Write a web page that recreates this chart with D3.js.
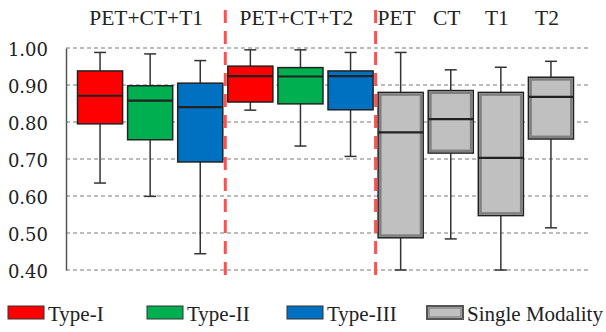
<!DOCTYPE html>
<html>
<head>
<meta charset="utf-8">
<script src="https://cdn.jsdelivr.net/npm/d3@7"></script>
<style>
  body { margin: 0; background: #fff; }
  svg { display: block; }
  .tick text { font-family: "DejaVu Serif", "Liberation Serif", "Times New Roman", serif; }
  .lbl { font-family: "Liberation Serif", "Times New Roman", "DejaVu Serif", serif; }
</style>
</head>
<body>
<div id="container"></div>
<script>
// box data
let ids = ["r1", "g1", "b1", "r2", "g2", "b2", "pet", "ct", "t1", "t2"];
let kinds = ["I", "II", "III", "I", "II", "III", "S", "S", "S", "S"];
let whiskerLow = [0.635, 0.599, 0.444, 0.832, 0.735, 0.707, 0.400, 0.484, 0.400, 0.514];
let q1 = [0.795, 0.752, 0.692, 0.854, 0.849, 0.833, 0.487, 0.716, 0.547, 0.754];
let median = [0.871, 0.858, 0.840, 0.924, 0.923, 0.924, 0.772, 0.808, 0.703, 0.868];
let q3 = [0.938, 0.898, 0.905, 0.951, 0.947, 0.938, 0.880, 0.885, 0.880, 0.921];
let whiskerHigh = [0.988, 0.984, 0.966, 0.995, 0.995, 0.988, 0.988, 0.941, 0.948, 0.964];

let topLabels = ["PET+CT+T1", "PET+CT+T2", "PET", "CT", "T1", "T2"];
let topLabelSpans = [["r1", "b1"], ["r2", "b2"], ["pet", "pet"], ["ct", "ct"], ["t1", "t1"], ["t2", "t2"]];
let yTicks = [0.4, 0.5, 0.6, 0.7, 0.8, 0.9, 1.0];
let legendNames = ["Type-I", "Type-II", "Type-III", "Single Modality"];
let legendKinds = ["I", "II", "III", "S"];

let colors = { I: "#ff0000", II: "#00b050", III: "#0070c0", S: "#c0c0c0" };

let width = 606, height = 332;
let svg = d3.select("#container").append("svg")
    .attr("width", width)
    .attr("height", height);

let x = d3.scaleBand().domain(ids).range([75, 576]).paddingInner(0.1).paddingOuter(0.05);
let y = d3.scaleLinear().domain([0.4, 1.0]).range([270, 48]);

// grid lines
svg.append("g").selectAll("line").data(yTicks).enter().append("line")
    .attr("x1", 66).attr("x2", 590)
    .attr("y1", d => y(d)).attr("y2", d => y(d))
    .attr("stroke", "#a6a6a6").attr("stroke-width", 1.3)
    .attr("stroke-dasharray", "4,3");

// y axis
let yAxis = d3.axisLeft(y).tickValues(yTicks).tickFormat(d3.format(".2f")).tickSize(0).tickPadding(18);
let ga = svg.append("g").attr("transform", "translate(66,0)").call(yAxis);
ga.attr("font-family", null);
ga.select(".domain").attr("stroke", "#555").attr("stroke-width", 1.5);
ga.selectAll("text")
    .attr("font-size", 18)
    .attr("fill", "#222")
    .attr("dy", "0.42em");

let rows = ids.map((id, i) => ({ id: id, kind: kinds[i], lo: whiskerLow[i], q1: q1[i], med: median[i], q3: q3[i], hi: whiskerHigh[i] }));

let boxes = svg.append("g").selectAll("g").data(rows).enter().append("g");
let cx = d => x(d.id) + x.bandwidth() / 2;

// whiskers
boxes.append("line")
    .attr("x1", cx).attr("x2", cx)
    .attr("y1", d => y(d.hi)).attr("y2", d => y(d.lo))
    .attr("stroke", "#333").attr("stroke-width", 1.5);
boxes.selectAll(".cap").data(d => [d.hi, d.lo].map(v => ({ d: d, v: v }))).enter().append("line")
    .attr("x1", e => cx(e.d) - 6).attr("x2", e => cx(e.d) + 6)
    .attr("y1", e => y(e.v)).attr("y2", e => y(e.v))
    .attr("stroke", "#333").attr("stroke-width", 1.5);

// boxes
boxes.append("rect")
    .attr("x", d => x(d.id))
    .attr("y", d => y(d.q3))
    .attr("width", x.bandwidth())
    .attr("height", d => y(d.q1) - y(d.q3))
    .attr("fill", d => colors[d.kind])
    .attr("stroke", "#222").attr("stroke-width", 1.5);
// inner lighter border on single modality boxes
boxes.filter(d => d.kind === "S").append("rect")
    .attr("x", d => x(d.id) + 2.2)
    .attr("y", d => y(d.q3) + 2.2)
    .attr("width", x.bandwidth() - 4.4)
    .attr("height", d => y(d.q1) - y(d.q3) - 4.4)
    .attr("fill", "none")
    .attr("stroke", "#7f7f7f").attr("stroke-width", 2.5);
// medians
boxes.append("line")
    .attr("x1", d => x(d.id)).attr("x2", d => x(d.id) + x.bandwidth())
    .attr("y1", d => y(d.med)).attr("y2", d => y(d.med))
    .attr("stroke", "#222").attr("stroke-width", 2.2);

// red separators between groups
let seps = [["b1", "r2"], ["b2", "pet"]];
svg.append("g").selectAll("line").data(seps).enter().append("line")
    .attr("x1", d => (x(d[0]) + x.bandwidth() + x(d[1])) / 2)
    .attr("x2", d => (x(d[0]) + x.bandwidth() + x(d[1])) / 2)
    .attr("y1", 10).attr("y2", 282)
    .attr("stroke", "#ff4f4f").attr("stroke-width", 3)
    .attr("stroke-dasharray", "13,8");

// top labels
svg.append("g").selectAll("text").data(topLabels).enter().append("text")
    .attr("class", "lbl")
    .attr("x", (d, i) => (x(topLabelSpans[i][0]) + x(topLabelSpans[i][1]) + x.bandwidth()) / 2 - 4)
    .attr("y", 25)
    .attr("text-anchor", "middle")
    .attr("font-size", 21.5)
    .attr("fill", "#222")
    .text(d => d);

// legend
let legendX = [8, 147, 287, 427];
let lg = svg.append("g").selectAll("g").data(legendNames).enter().append("g")
    .attr("transform", (d, i) => "translate(" + legendX[i] + ",306)");
lg.append("rect")
    .attr("width", 36).attr("height", 13)
    .attr("fill", (d, i) => colors[legendKinds[i]])
    .attr("stroke", (d, i) => legendKinds[i] === "S" ? "#555" : "#333")
    .attr("stroke-width", (d, i) => legendKinds[i] === "S" ? 2 : 1);
lg.filter((d, i) => legendKinds[i] === "S").append("rect")
    .attr("x", 2).attr("y", 2).attr("width", 32).attr("height", 9)
    .attr("fill", "none").attr("stroke", "#8a8a8a").attr("stroke-width", 1.5);
lg.append("text")
    .attr("class", "lbl")
    .attr("x", 40).attr("y", 15)
    .attr("font-size", 21)
    .attr("fill", "#222")
    .text(d => d);
</script>
</body>
</html>
